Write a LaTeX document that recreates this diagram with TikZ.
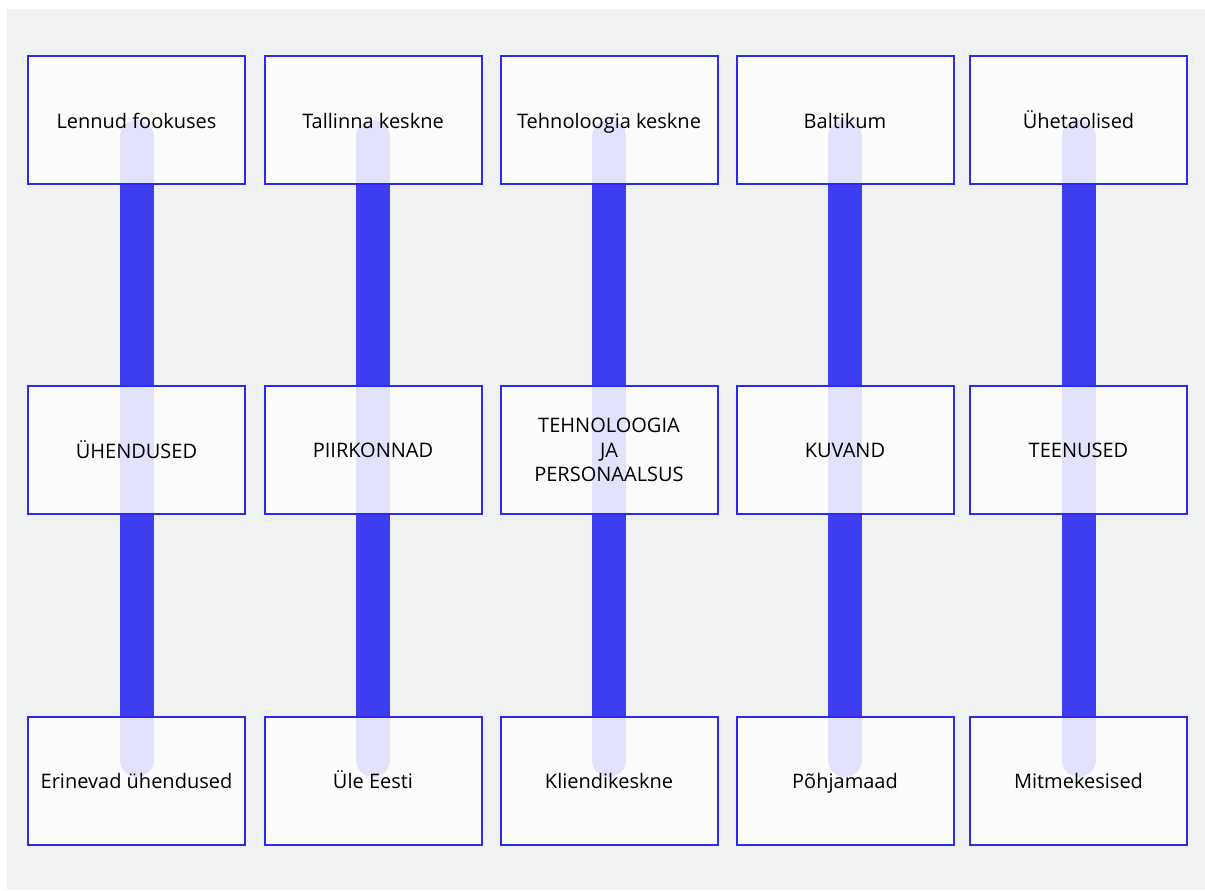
\documentclass[tikz,border=0pt]{standalone}
\usepackage{fontspec}
\setmainfont{Open Sans}
\usetikzlibrary{positioning}
\pgfdeclarelayer{canvas}
\pgfdeclarelayer{background}
\pgfsetlayers{canvas,background,main}
\definecolor{boxblue}{RGB}{42,42,246}
\definecolor{barblue}{RGB}{62,62,240}
\definecolor{bggray}{RGB}{240,241,243}
\tikzstyle{box} = [draw=boxblue, line width=1.5pt, fill=white, fill opacity=0.85, draw opacity=1, text opacity=1, text centered, align=center, minimum width=162.75pt, minimum height=96pt, inner sep=0pt, font=\fontsize{15}{18.4}\selectfont]
\tikzstyle{oneline} = [text height=14pt, text depth=2pt]
\tikzstyle{bar} = [draw, color=barblue, line width=25.5pt, line cap=round]
\begin{document}
\begin{tikzpicture}[x=0.75pt,y=-0.75pt]
\useasboundingbox (0,0) rectangle (1205,890);
\begin{pgfonlayer}{canvas}
\fill[bggray] (7,9) rectangle (1205,890);
\end{pgfonlayer}
% three rows of boxes per column
\foreach \i/\cx/\top/\mid/\bot in {%
  1/136.5/{Lennud fookuses}/{ÜHENDUSED}/{Erinevad ühendused},
  2/373/{Tallinna keskne}/{PIIRKONNAD}/{Üle Eesti},
  3/609/{Tehnoloogia keskne}/{TEHNOLOOGIA\\JA\\PERSONAALSUS}/{Kliendikeskne},
  4/845/{Baltikum}/{KUVAND}/{Põhjamaad},
  5/1078.5/{Ühetaolised}/{TEENUSED}/{Mitmekesised}}{
  \node (t\i) [box,oneline] at (\cx,120) {\top};
  \node (m\i) [box] at (\cx,450) {\mid};
  \node (b\i) [box,oneline] at (\cx,780.5) {\bot};
  \begin{pgfonlayer}{background}
  \path [bar] ([yshift=-12.75pt]t\i.center) -- ([yshift=15.4pt]b\i.center);
  \end{pgfonlayer}
}
\end{tikzpicture}
\end{document}
